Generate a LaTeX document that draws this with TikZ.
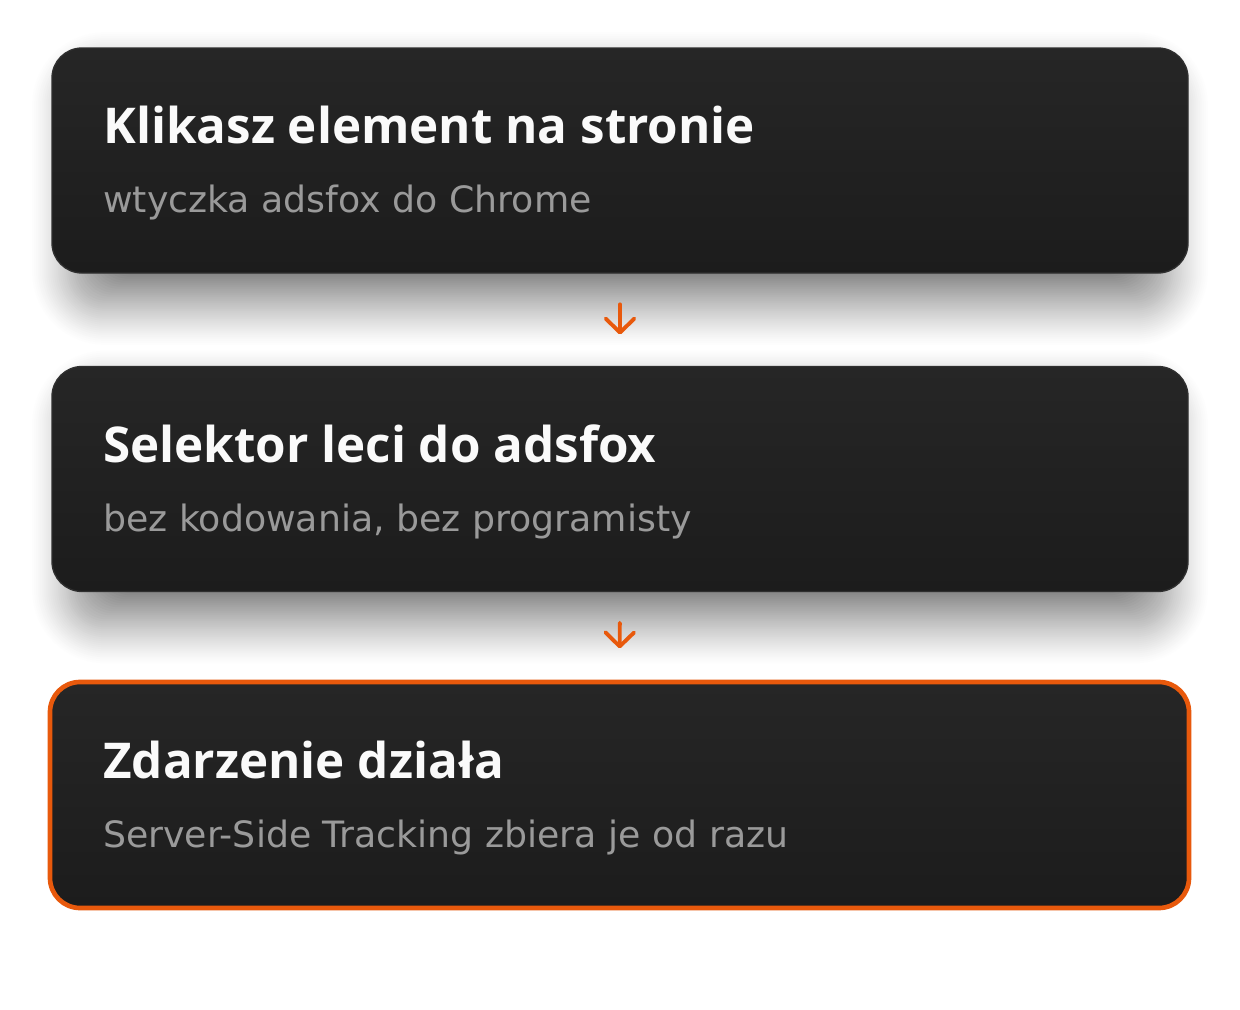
\documentclass[tikz,border=0pt]{standalone}
\usepackage{fontspec}
\setmainfont{Open Sans}
\newfontfamily\subfont{DejaVu Sans}
\usetikzlibrary{arrows.meta}
\pgfdeclarelayer{bg}
\pgfsetlayers{bg,main}
\definecolor{orng}{HTML}{E8590C}
\definecolor{cardtop}{HTML}{262626}
\definecolor{cardbot}{HTML}{1C1C1C}
\definecolor{cardline}{HTML}{2F2F2F}
\definecolor{subgray}{HTML}{9A9A9A}
\definecolor{titlewhite}{HTML}{FAFAFA}
\newcommand\softshadow[1]{%
  \foreach \e in {45,43,...,-31}{%
    \pgfmathsetmacro\pct{50*((45-\e)/76)^1.2}%
    \fill[black!\pct, rounded corners={22.5pt+0.75pt*max(\e,0)}]
      ([shift={(-\e+24,28-\e)}]#1.north west) rectangle ([shift={(\e-24,28+\e)}]#1.south east);
  }%
}
\begin{document}
\begin{tikzpicture}[x=0.75pt,y=-0.75pt,
  card/.style={rounded corners=22.5pt, top color=cardtop, bottom color=cardbot,
    draw=cardline, line width=1pt, minimum width=852pt, minimum height=168.75pt,
    inner sep=0pt},
  hot/.style={draw=orng, line width=3.5pt, minimum width=854.25pt, minimum height=169.5pt},
  ttl/.style={anchor=base west, inner sep=0pt, text=titlewhite,
    font=\fontsize{37pt}{40pt}\selectfont\bfseries},
  sub/.style={anchor=base west, inner sep=0pt, text=subgray,
    font=\subfont\fontsize{27.2pt}{30pt}\selectfont},
  flow/.style={draw=orng, line width=2.9pt, line cap=round, line join=round,
    -{Straight Barb[length=10.5pt, width=21.5pt, line cap=round, line join=round]}}
]
\useasboundingbox (0,0) rectangle (1240,1010);

\node[card] (b1) at (620,160.5) {};
\node[card] (b2) at (620,479) {};
\node[card, hot] (b3) at (619.5,795) {};

\begin{pgfonlayer}{bg}
  \fill[white] (0,0) rectangle (1240,1010);
  \softshadow{b1}
  \softshadow{b2}
\end{pgfonlayer}

\node[ttl] (t1) at (103,143) {Klikasz element na stronie};
\node[sub] (s1) at (103,212) {wtyczka adsfox do Chrome};
\node[ttl] (t2) at (103,462) {Selektor leci do adsfox};
\node[sub] (s2) at (103,531) {bez kodowania, bez programisty};
\node[ttl] (t3) at (103,778) {Zdarzenie działa};
\node[sub] (s3) at (103,847) {Server-Side Tracking zbiera je od razu};

\draw[flow, shorten <=23pt, shorten >=23.5pt] (b1.south) -- (b2.north);
\draw[flow, shorten <=23pt, shorten >=23.5pt] (b2.south) -- (b3.north);
\end{tikzpicture}
\end{document}
